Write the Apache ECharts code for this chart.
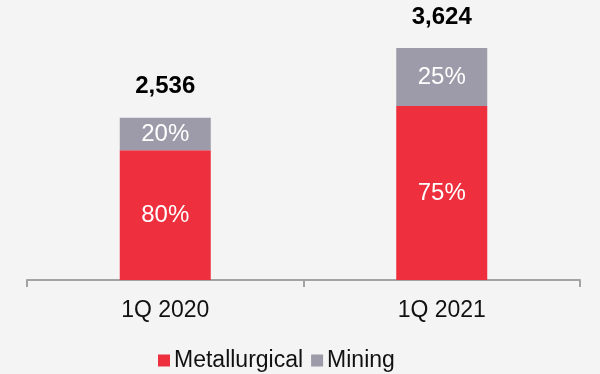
<!DOCTYPE html>
<html>
<head>
<meta charset="utf-8">
<script src="https://cdn.jsdelivr.net/npm/echarts@6/dist/echarts.min.js"></script>
<style>
  html, body { margin: 0; padding: 0; background: #f4f4f4; }
  #chart { width: 600px; height: 374px; }
</style>
</head>
<body>
<div id="chart"></div>
<script>
// Quarterly totals and the share held by each segment
const categories = ['1Q 2020', '1Q 2021'];
const totals = [2536, 3624];
const metallurgicalShare = [80, 75];
const miningShare = [20, 25];

const seriesNames = ['Metallurgical', 'Mining'];
const colors = ['#ee2f3d', '#9d9ba9'];

// Segment sizes derived from each quarter's total and its stated share
const metallurgical = totals.map((t, i) => t * metallurgicalShare[i] / 100);
const mining = totals.map((t, i) => t * miningShare[i] / 100);

const fontFamily = '"Liberation Sans", Arial, sans-serif';

const pctLabel = (shares) => ({
  show: true,
  position: 'inside',
  color: '#ffffff',
  fontSize: 24,
  fontFamily: fontFamily,
  formatter: (p) => shares[p.dataIndex] + '%'
});

const chart = echarts.init(document.getElementById('chart'));
chart.setOption({
  backgroundColor: '#f4f4f4',
  animation: false,
  grid: { left: 27, right: 20, top: 24, bottom: 94 },
  legend: {
    data: seriesNames,
    left: 153,
    top: 344,
    itemWidth: 12,
    itemHeight: 12,
    itemGap: 8,
    icon: 'rect',
    textStyle: { fontSize: 23, color: '#111', fontFamily: fontFamily, padding: [0, 0, 0, -1] }
  },
  xAxis: {
    type: 'category',
    data: categories,
    axisLine: { lineStyle: { color: '#a3a3a3', width: 2 } },
    axisTick: { show: true, length: 7, lineStyle: { color: '#a3a3a3', width: 2 } },
    axisLabel: { color: '#111', fontSize: 23, fontFamily: fontFamily, margin: 19 }
  },
  yAxis: {
    type: 'value',
    min: 0,
    max: 4000,
    show: false,
    splitLine: { show: false }
  },
  series: [
    {
      name: seriesNames[0],
      type: 'bar',
      stack: 'total',
      barWidth: 91,
      data: metallurgical,
      itemStyle: { color: colors[0] },
      label: pctLabel(metallurgicalShare)
    },
    {
      name: seriesNames[1],
      type: 'bar',
      stack: 'total',
      barWidth: 91,
      data: mining,
      itemStyle: { color: colors[1] },
      label: pctLabel(miningShare)
    },
    {
      // Invisible overlay carrying the quarter total above each column
      name: 'Total',
      type: 'bar',
      barWidth: 91,
      barGap: '-100%',
      data: totals,
      z: 0,
      itemStyle: { color: 'rgba(0,0,0,0)' },
      label: {
        show: true,
        position: 'top',
        distance: 19,
        color: '#000',
        fontSize: 24,
        fontWeight: 'bold',
        fontFamily: fontFamily,
        formatter: (p) => p.value.toLocaleString('en-US')
      }
    }
  ]
});
</script>
</body>
</html>
